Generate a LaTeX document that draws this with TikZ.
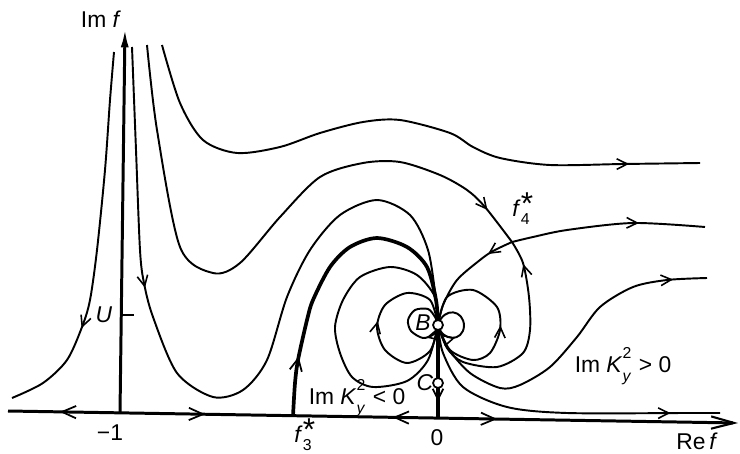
\documentclass[tikz,border=0pt]{standalone}
\usepackage{fontspec}
\setmainfont{Liberation Sans}
\usetikzlibrary{arrows.meta,decorations.markings}
\newcommand{\subsupx}[2]{\makebox[0pt][l]{\raisebox{0.62em}{\small #2}}\raisebox{-0.38em}{\small #1}}
\newcommand{\substar}[1]{\makebox[0pt][l]{\raisebox{0.05em}{\fontsize{18}{18}\selectfont *}}\raisebox{-0.38em}{\small #1}}
\begin{document}
\begin{tikzpicture}[x=0.02cm,y=-0.02cm,
  curve/.style={line width=1.1pt, line join=round},
  thickcurve/.style={line width=2.1pt, line join=round},
  axisline/.style={line width=1.7pt},
  barb/.tip={Straight Barb[length=6pt,width=6pt,line width=0.9pt]},
  bigbarb/.tip={Straight Barb[length=8pt,width=7pt,line width=1pt]},
  marr/.style={postaction={decorate},decoration={markings,mark=at position #1 with {\arrow{barb}}}},
  dot/.style={circle,draw,fill=white,line width=1pt,inner sep=0pt,minimum size=0.2cm},
  lab/.style={font=\fontsize{13}{15}\selectfont, inner sep=1pt}
]
\useasboundingbox (0,0) rectangle (740,453);
\fill[white] (0,0) rectangle (740,453);
% key points
\coordinate (Bc) at (438,325);
\coordinate (Cc) at (438,383);
\coordinate (F4) at (512,242);
\coordinate (F3) at (293,416);
\coordinate (O) at (438,418);
\coordinate (axL) at (8,411);
\coordinate (axR) at (738,423);
\coordinate (imB) at (120,413);
\coordinate (imT) at (125,28);
\coordinate (tkA) at (121,315);
\coordinate (tkB) at (134,315);
% Re axis
\draw[axisline, -{Straight Barb[length=13pt,width=7pt,line width=1.2pt]},
  postaction={decorate},decoration={markings,
   mark=at position 0.071 with {\arrowreversed{bigbarb}},
   mark=at position 0.27 with {\arrow{bigbarb}},
   mark=at position 0.527 with {\arrowreversed{bigbarb}},
   mark=at position 0.67 with {\arrow{bigbarb}}}] (axL) -- (axR);
% Im axis
\draw[axisline, -{Latex[length=11pt,width=4.5pt]}] (imB) -- (imT);
\draw[line width=1pt] (tkA) -- (tkB);
% curve 1 (left of Im axis)
\draw[curve, marr=0.73] plot[smooth] coordinates {(114,52) (110,100) (105,170) (97,250) (90,300) (82,327) (67,360) (43,383) (12,398)};
% curve 3
\draw[curve, marr=0.30] plot[smooth] coordinates {(132,47) (136,150) (140,250) (144,283) (153,317) (177,373) (213,397) (243,390) (267,360) (287,297) (310,250) (340,215) (377,200) (410,215) (428,250) (436,300) (Bc)};
% curve 4
\draw[curve, marr=0.935] plot[smooth] coordinates {(147,45) (157,130) (180,247) (213,273) (240,263) (280,217) (320,177) (363,163) (400,162) (440,175) (467,190) (485,207) (F4)};
% curve 5
\draw[curve, marr=0.885] plot[smooth] coordinates {(162,45) (180,103) (203,140) (237,153) (280,147) (320,133) (363,122) (400,120) (450,133) (473,147) (500,158) (550,165) (623,164) (700,163)};
% thick curve from f3*
\draw[thickcurve, postaction={decorate},decoration={markings,mark=at position 0.18 with {\arrow{Straight Barb[length=7pt,width=7pt,line width=1pt]}}}] plot[smooth] coordinates {(F3) (295,383) (298,360) (307,320) (313,300) (330,267) (350,247) (377,238) (407,247) (427,267) (436,300) (Bc)};
% big left loop
\draw[curve] plot[smooth] coordinates {(Bc) (435,297) (417,275) (390,267) (360,277) (343,300) (335,327) (340,353) (352,377) (373,387) (407,381) (428,360) (Bc)};
% left lobe
\draw[curve, marr=0.54] plot[smooth] coordinates {(Bc) (430,351) (407,363) (385,350) (377,327) (385,305) (407,293) (430,300) (Bc)};
% right lobe
\draw[curve, marr=0.49] plot[smooth] coordinates {(Bc) (450,350) (473,360) (490,353) (500,330) (497,307) (473,290) (447,297) (Bc)};
% tiny left loop
\draw[curve, marr=0.2] plot[smooth] coordinates {(Bc) (434,334) (423,338) (411,331) (408,320) (415,310) (428,309) (435,317) (Bc)};
% tiny right loop
\draw[curve, marr=0.3] (Bc) .. controls (442,342) and (463,342) .. (464,326) .. controls (464,310) and (444,306) .. (Bc);
% lower loop B -> f4*
\draw[curve, marr=0.89] plot[smooth] coordinates {(Bc) (447,348) (463,362) (497,367) (523,353) (530,330) (529,297) (523,263) (F4)};
% f4* -> B
\draw[curve, marr=0.23] plot[smooth] coordinates {(F4) (493,251) (480,260) (457,280) (443,305) (Bc)};
% f4* -> right
\draw[curve, marr=0.66] plot[smooth] coordinates {(F4) (533,237) (567,230) (633,223) (705,227)};
% B -> right (upper)
\draw[curve, marr=0.90] plot[smooth] coordinates {(Bc) (447,347) (470,373) (500,388) (520,385) (550,367) (577,337) (600,307) (633,287) (667,280) (707,278)};
% B -> right (lower)
\draw[curve, marr=0.85] plot[smooth] coordinates {(Bc) (443,353) (463,387) (507,407) (567,413) (687,413) (720,413)};
% vertical B -> C -> axis
\draw[line width=1.8pt, postaction={decorate},decoration={markings,mark=at position 0.82 with {\arrow{Straight Barb[length=6pt,width=6pt,line width=1pt]}}}] (Bc) -- (O);
% points
\node[dot] (B) at (Bc) {};
\node[dot] (C) at (Cc) {};
% labels
\node[lab] (imf) at (101,19) {Im \textit{f}};
\node[lab] (U) at (104,315) {\textit{U}};
\node[lab] (m1) at (110,433) {−1};
\node[lab] (zero) at (437,438) {0};
\node[lab] (ref) at (697,441) {Re\,\textit{f}};
\node[lab] (f3) at (303,435) {\textit{f}\substar{3}};
\node[lab] (f4) at (521,209) {\textit{f}\substar{4}};
\node[lab] (Bl) at (423,323) {\textit{B}};
\node[lab] (Cl) at (425,383) {\textit{C}};
\node[lab] (kpos) at (623,366) {Im \textit{K}\subsupx{\textit{y}}{2}\,\,> 0};
\node[lab] (kneg) at (357,398) {Im \textit{K}\subsupx{\textit{y}}{2}\,\,< 0};
\end{tikzpicture}
\end{document}
